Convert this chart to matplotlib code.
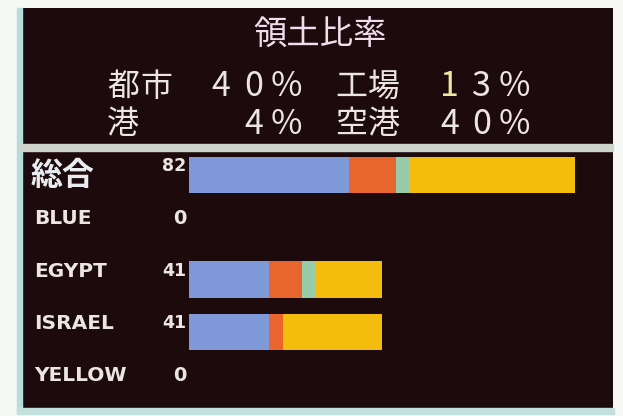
import matplotlib
matplotlib.use('Agg')
import matplotlib.pyplot as plt
import numpy as np

# data
categories = ['総合', 'BLUE', 'EGYPT', 'ISRAEL', 'YELLOW']
totals = [82, 0, 41, 41, 0]
city = [34, 0, 17, 17, 0]
factory = [10, 0, 7, 3, 0]
port = [3, 0, 3, 0, 0]
airport = [35, 0, 14, 21, 0]

share_names = ['都市', '工場', '港', '空港']
share_pct = [40, 13, 4, 40]
title = '領土比率'

seg_colors = ['#7f98d8', '#e8662e', '#98cca8', '#f4bc0c']
panel = '#1c0a0c'
txt = '#ece6e0'

W, H = 623, 416
fig = plt.figure(figsize=(W / 100, H / 100), dpi=100, facecolor='#f6f8f6')


def rect(x0, y0, x1, y1):
    # pixel box -> figure fraction
    return [x0 / W, 1 - y1 / H, (x1 - x0) / W, (y1 - y0) / H]


# frame bits around the screen
fig.patches.append(plt.Rectangle((17 / W, 1 - 413 / H), 5 / W, 405 / H,
                                 transform=fig.transFigure, color='#b8dcdc'))
fig.patches.append(plt.Rectangle((17 / W, 1 - 414 / H), 597 / W, 6 / H,
                                 transform=fig.transFigure, color='#c4e0dc'))
fig.patches.append(plt.Rectangle((20 / W, 1 - 151 / H), 593 / W, 7 / H,
                                 transform=fig.transFigure, color='#cfd4cc'))

# top panel: share of territory
top = fig.add_axes(rect(20, 8, 613, 144))
top.set_facecolor(panel)
top.set_xlim(20, 613)
top.set_ylim(144, 8)
top.set_xticks([])
top.set_yticks([])
for s in top.spines.values():
    s.set_visible(False)

cjk = ['Noto Sans CJK JP', 'DejaVu Sans']
top.text(320, 35, title, ha='center', va='center', fontsize=24,
         family=cjk, color='#f0dcec')


def pct(v):
    return f'{v:>2d}%'.replace(' ', '\u3000')


row1 = share_names[0] + '\u3000' + pct(share_pct[0]) + '\u3000' + share_names[1] + '\u3000' + pct(share_pct[1])
row2 = share_names[2] + '\u3000\u3000' + pct(share_pct[2]) + '\u3000' + share_names[3] + '\u3000' + pct(share_pct[3])
cell = 32.6
for row, yc in [(row1, 87), (row2, 124)]:
    for k, ch in enumerate(row):
        if ch == '\u3000':
            continue
        size = 23 if ord(ch) > 0x3000 else 24.5
        col = '#efe6a0' if ch == '1' else txt
        top.text(107 + cell * k + cell / 2, yc, ch, ha='center', va='center',
                 fontsize=size, family=cjk, color=col)

# bottom panel: bars per player
ax = fig.add_axes(rect(20, 151, 613, 408))
ax.set_facecolor(panel)
scale = 386 / 82
ax.set_xlim(-(189 - 20) / scale, (613 - 189) / scale)
ax.set_ylim(4 + 24 / 52.3, -24 / 52.3)
ax.set_xticks([])
ax.set_yticks([])
for s in ax.spines.values():
    s.set_visible(False)

y = np.arange(len(categories))
left = np.zeros(len(categories))
for vals, c in zip([city, factory, port, airport], seg_colors):
    ax.barh(y, vals, left=left, height=0.69, color=c, linewidth=0)
    left += np.array(vals)

for i, (name, tot) in enumerate(zip(categories, totals)):
    if i == 0:
        ax.text(11 / 593, i + 0.02, name, transform=ax.get_yaxis_transform(),
                ha='left', va='center', fontsize=23, fontweight='bold',
                family=cjk, color='#e8ecf0')
    else:
        ax.text(14 / 593, i - 0.16, name, transform=ax.get_yaxis_transform(),
                ha='left', va='center', fontsize=14.5, fontweight='bold',
                family='DejaVu Sans', color=txt)
    ax.text(-0.6, i - 0.17, str(tot), ha='right', va='center',
            fontsize=12.5 if tot else 14, fontweight='bold',
            family='DejaVu Sans', color=txt)

fig.savefig('out.png', dpi=100, facecolor=fig.get_facecolor())
